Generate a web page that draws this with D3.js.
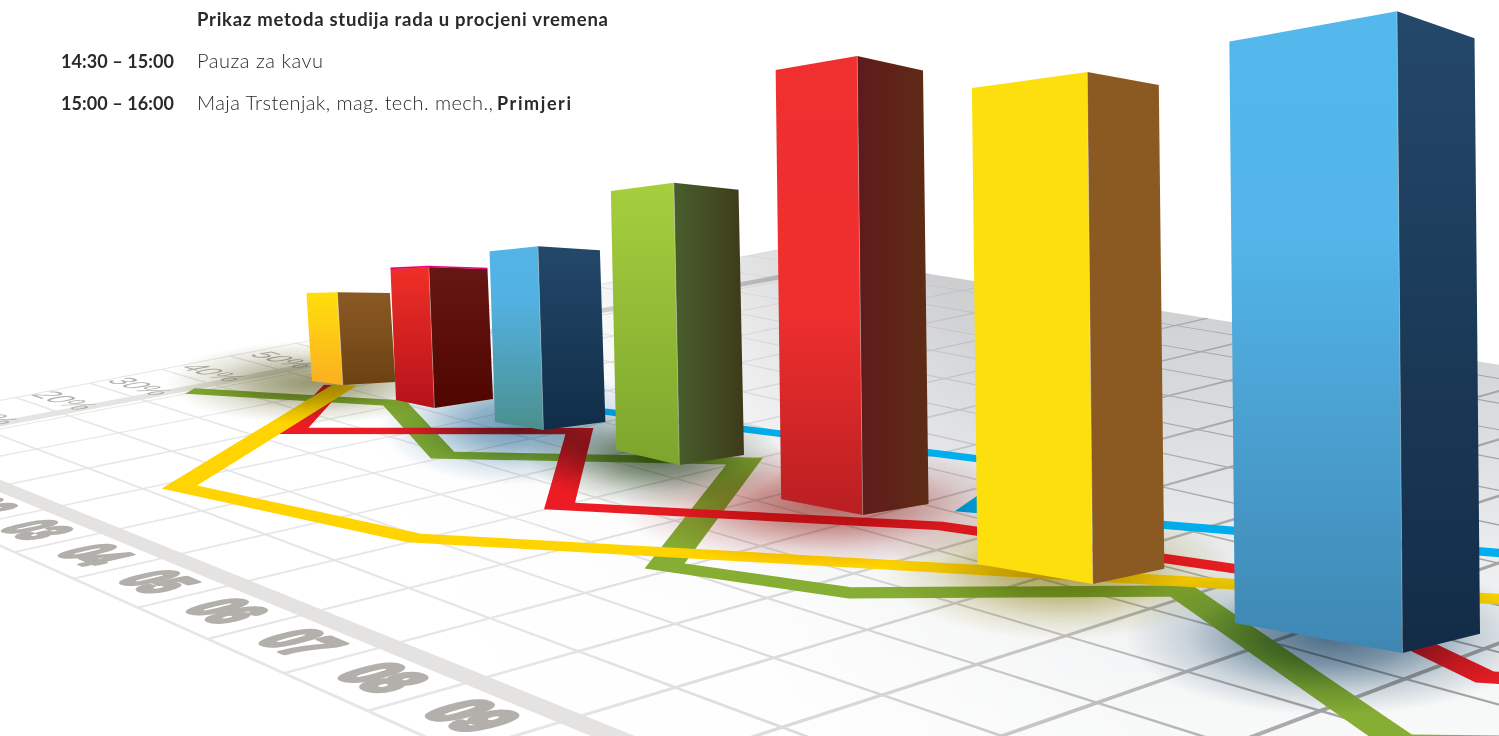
<!DOCTYPE html><html><head><meta charset="utf-8"><style>
html,body{margin:0;background:#fff;overflow:hidden}
text{font-family:Lato,"Open Sans",sans-serif}
</style></head><body><script src="https://cdn.jsdelivr.net/npm/d3@7"></script>
<svg id="s" width="1499" height="736" style="display:block"></svg>
<script>
// ---- chart values (month position, percent position, value)
const monthLabels=["02","03","04","05","06","07","08","09"];
const monthTicks=[2,3,4,5,6,7,8,9];
const percentLabels=["10%","20%","30%","40%","50%"];
const percentTicks=[10,20,30,40,50];

const yellowMonths=[0.36,2.68,5.43,12.5];
const yellowPercent=[45.8,8,14.3,70.6];
const redMonths=[0.29,1.65,3.6,5.5,8.06,10.56,12.81,13.81,14.5];
const redPercent=[45,29.1,50.7,30.6,50.8,59.4,49.4,57.7,63];
const blueMonths=[3.12,7.36,7.92,12];
const bluePercent=[58.1,72.7,57.1,81.4];
const greenMonths=[-0.58,1.4,3.42,5.49,7.39,8.82,10.39,13.13,15];
const greenPercent=[31.3,44.5,34.3,54.3,24.9,30.9,50.5,33.7,56];

const barValues=[20.1,29.1,36.3,52.3,78.2,78.6,89.3];
const barFrontMonth=[0.35,1.86,3.33,5.19,7.42,9.86,12.2];
const barFrontPercent=[45.6,46.2,48.3,48.7,48.5,46.9,49.8];
const barLeftMonth=[-0.05,1.3,2.75,4.39,6.62,8.96,11.09];
const barLeftPercent=[44.3,45.5,46.9,48.2,47,44.4,46.8];
const barRightMonth=[0.63,1.97,3.5,5.33,7.56,9.97,12.31];
const barRightPercent=[50.8,53.4,55.2,55.9,55.4,54.4,57.8];
const barLeftRatio=[.946,.929,.929,.918,.935,.93,.906];
const barRightRatio=[.957,.922,.935,.94,.945,.945,.928];

// ---- floor perspective: grid crossings measured on the picture [month,percent,x,y]
const floorCalibration=[[8.5,15,672,624],[7.5,15,580,593],[9.5,15,772,658],[10.5,15,878,695],[8.5,25,765,598],[9.5,25,863,630],[10.5,25,975,665],[9.5,35,953,603],[2.5,-5,57,510],[3.5,-5,113,532],[4.5,-5,177,557],[5.5,-5,247,585],[6.5,-5,317,612],[7.5,-5,398,645],[8.5,-5,488,680],[3.5,-15,7,550],[4.5,-15,68,577],[5.5,-15,133,607],[6.5,-15,203,638],[7.5,-15,280,673],[8.5,-15,367,710],[-0.8,15,52,412],[-0.8,25,132,397],[-0.8,35,207,382],[-0.8,45,278,368],[10.5,35,1064,637],[10.5,45,1148,608],[11.5,25,1097,703],[11.5,35,1187,672],[11.5,45,1282,638],[12.5,35,1320,713],[12.5,45,1404,680]];

const monthScale=d3.scaleLinear().domain([0,10]).range([0,1]);
const percentScale=d3.scaleLinear().domain([0,100]).range([0,1]);
const heightScale=d3.scaleLinear().domain([0,100]).range([0,500]);

function solve(A,b){const n=b.length;A=A.map((r,i)=>[...r,b[i]]);for(let i=0;i<n;i++){let p=i;for(let k=i;k<n;k++)if(Math.abs(A[k][i])>Math.abs(A[p][i]))p=k;[A[i],A[p]]=[A[p],A[i]];for(let k=i+1;k<n;k++){const f=A[k][i]/A[i][i];for(let j=i;j<=n;j++)A[k][j]-=f*A[i][j];}}const x=Array(n).fill(0);for(let i=n-1;i>=0;i--){let s=A[i][n];for(let j=i+1;j<n;j++)s-=A[i][j]*x[j];x[i]=s/A[i][i];}return x;}
const h=(()=>{const N=Array.from({length:8},()=>Array(8).fill(0)),R=Array(8).fill(0);
 for(const [m,p,x,y] of floorCalibration){const u=monthScale(m),v=percentScale(p),X=x/1000,Y=y/1000;
  for(const [r,t] of [[[u,v,1,0,0,0,-u*X,-v*X],X],[[0,0,0,u,v,1,-u*Y,-v*Y],Y]])for(let i=0;i<8;i++){R[i]+=r[i]*t;for(let j=0;j<8;j++)N[i][j]+=r[i]*r[j];}}
 return solve(N,R);})();
const W=(m,p)=>h[6]*monthScale(m)+h[7]*percentScale(p)+1;
const P=(m,p)=>{const u=monthScale(m),v=percentScale(p),w=W(m,p);return[1000*(h[0]*u+h[1]*v+h[2])/w,1000*(h[3]*u+h[4]*v+h[5])/w];};
// Jacobian for text lying on the floor
const J=(m,p)=>{const a=P(m-.02,p),b=P(m+.02,p),c=P(m,p-.2),d=P(m,p+.2);return[[(b[0]-a[0])/.04,(b[1]-a[1])/.04],[(d[0]-c[0])/.4,(d[1]-c[1])/.4]];};

const svg=d3.select('#s'),defs=svg.append('defs');
const poly=d=>d3.line()(d)+'Z';
function linGrad(id,stops,a){const g=defs.append('linearGradient').attr('id',id);
 if(a){g.attr('gradientUnits','userSpaceOnUse').attr('x1',a[0]).attr('y1',a[1]).attr('x2',a[2]).attr('y2',a[3]);}
 else g.attr('x1',0).attr('y1',0).attr('x2',0).attr('y2',1);
 stops.forEach(s=>g.append('stop').attr('offset',s[0]).attr('stop-color',s[1]).attr('stop-opacity',s[2]===undefined?1:s[2]));return g;}

// floor
const stripM=p=>-1.65-(p-15)/126*0.45, topP=141, farM=22, lowP=-15;
const floorPts=[[stripM(lowP),lowP],[stripM(topP),topP],[farM,topP],[farM,lowP]];
linGrad('floorV',[[0,'#cdced0'],[.33,'#dcdde0'],[.72,'#f2f3f4'],[1,'#f8f9f9']],[0,280,0,736]);
linGrad('floorFade',[[0,'#fff',1],[.45,'#fff',.85],[1,'#fff',0]],[420,560,950,300]);
linGrad('gridC',[[0,'#e6e6e6'],[.4,'#d8d8d8'],[1,'#a4a4a4']],[520,640,1250,420]);
linGrad('bandB',[[0,'#e4e4e2'],[.5,'#d8d8d6'],[1,'#b4b4b4']],[300,0,780,0]);
svg.append('path').attr('d',poly(floorPts.map(d=>P(...d)))).attr('fill','url(#floorV)');
svg.append('path').attr('d',poly(floorPts.map(d=>P(...d)))).attr('fill','url(#floorFade)');

// grid
const grid=svg.append('g').attr('fill','url(#gridC)');
const segM=(p,m0,m1,w)=>poly([[m0,p-w],[m1,p-w],[m1,p+w],[m0,p+w]].map(d=>P(...d)));
const segP=(m,p0,p1,w)=>poly([[m-w,p0],[m+w,p0],[m+w,p1],[m-w,p1]].map(d=>P(...d)));
const gridP=d3.range(lowP,topP-5,10), gridM=d3.range(-0.5,farM,1);
gridP.forEach(p=>grid.append('path').attr('d',segM(p,p<0?0:stripM(p),farM,.2)));
gridM.forEach(m=>grid.append('path').attr('d',segP(m,lowP,topP,.022)));
grid.append('path').attr('d',poly([[stripM(lowP)-.02,lowP],[stripM(topP)-.02,topP],[stripM(topP)+.02,topP],[stripM(lowP)+.02,lowP]].map(d=>P(...d))));
// axis bands
svg.append('path').attr('d',segM(-5,-0.7,farM,1.15)).attr('fill','#e4e3e1');
svg.append('path').attr('d',segP(-0.7,-5,topP,.11)).attr('fill','url(#bandB)');

// tick labels lying on the floor
function floorText(t,m,p,emM,emP,cls){const j=J(m,p),q=P(m,p);
 const g=svg.append('g').attr('transform',`matrix(${j[0][0]*emM/100},${j[0][1]*emM/100},${-j[1][0]*emP/100},${-j[1][1]*emP/100},${q[0]},${q[1]})`);
 const s=g.append('text').text(t).attr('font-size',100).attr('text-anchor','middle').attr('dy','.36em').style('font-family','"Liberation Sans"');
 if(cls==='m')s.attr('font-weight',700).attr('fill','#b3b0ac').attr('stroke','#b3b0ac').attr('stroke-width',11).attr('stroke-linejoin','round');
 else s.attr('fill','#9c9c94').attr('fill-opacity',.8);}
monthLabels.forEach((t,i)=>floorText(t,monthTicks[i]+.03,-9.8,.47,7,'m'));
percentLabels.forEach((t,i)=>floorText(t,-1.15,percentTicks[i]-1.5,.5,4.5,'p'));

// ribbons on the floor
const ribbonPts=(ms,ps,w)=>{const pts=ms.map((m,i)=>[m,ps[i]/10]),L=[],R=[],n=pts.length;
 for(let i=0;i<n;i++){const a=pts[Math.max(i-1,0)],b=pts[i],c=pts[Math.min(i+1,n-1)];
  let d1=[b[0]-a[0],b[1]-a[1]],d2=[c[0]-b[0],c[1]-b[1]];
  const nr=v=>{const l=Math.hypot(v[0],v[1])||1;return[v[0]/l,v[1]/l];};
  if(i===0)d1=d2;if(i===n-1)d2=d1;d1=nr(d1);d2=nr(d2);
  const n1=[-d1[1],d1[0]],n2=[-d2[1],d2[0]];const mi=nr([n1[0]+n2[0],n1[1]+n2[1]]);
  let k=1/Math.max(.28,mi[0]*n1[0]+mi[1]*n1[1]);
  L.push([b[0]+mi[0]*w*k,(b[1]+mi[1]*w*k)*10]);R.push([b[0]-mi[0]*w*k,(b[1]-mi[1]*w*k)*10]);}
 return L.concat(R.reverse()).map(d=>P(d[0],d[1]));};
const lineSeries=[[blueMonths,bluePercent,.125,'#00aeef'],[greenMonths,greenPercent,.14,'#86ae34'],[redMonths,redPercent,.13,'#ed1c24'],[yellowMonths,yellowPercent,.14,'#ffd400']];
lineSeries.forEach(s=>svg.append('path').attr('d',poly(ribbonPts(s[0],s[1],s[2]))).attr('fill',s[3]));

// shadows under bars
const shadowColor=['#7d7d4e','#5f8db0','#4f87ad','#3a5232','#a02f28','#a89c3a','#2f5878'];
const shadowOp=[.8,.0,.85,.85,.7,.85,.85];
const shadowRx=[1.75,1,1.25,1.0,1.4,.95,.85];
const shadowRy=[.5,.3,.55,.4,.42,.36,.32];
const shadowDx=[-.5,0,-.3,-.2,-.2,-.05,-.1];
const barColLeft=[[[0,'#ffdf0b'],[1,'#fbaf21']],[[0,'#f02f27'],[1,'#b5121b']],[[0,'#52b4e8'],[.3,'#52b1e0'],[1,'#4b8f8e']],[[0,'#a6cf3e'],[1,'#7da52d']],[[0,'#f03030'],[.55,'#ef2f2e'],[1,'#b91f22']],[[0,'#fddf0d'],[1,'#fddf0d']],[[0,'#54b8ec'],[.35,'#53b5e9'],[1,'#3e87b2']]];
const barColRight=[[[0,'#8a5a24'],[1,'#6c4212']],[[0,'#661713'],[1,'#500500']],[[0,'#24486a'],[1,'#0f2d47']],[[0,'#485e2d'],[1,'#3e3a1a']],[[0,'#5f1a1c'],[1,'#5e2c15']],[[0,'#8b5a22'],[1,'#8b5a22']],[[0,'#24486a'],[1,'#122c47']]];
const topEdge=[null,'#e6007e',null,null,null,null,null];
const horizRight=[false,false,false,true,true,false,false];

barValues.forEach((v,i)=>{
 const L=P(barLeftMonth[i],barLeftPercent[i]),F=P(barFrontMonth[i],barFrontPercent[i]),R=P(barRightMonth[i],barRightPercent[i]);
 const wpx=R[0]-L[0],cx=(L[0]+R[0])/2+wpx*shadowDx[i],cy=(L[1]+R[1]+F[1])/3;
 if(shadowOp[i]>0){const id='sh'+i,g=defs.append('radialGradient').attr('id',id);
  [[0,1],[.35,.72],[.7,.25],[1,0]].forEach(s=>g.append('stop').attr('offset',s[0]).attr('stop-color',shadowColor[i]).attr('stop-opacity',s[1]*shadowOp[i]));
  svg.append('ellipse').attr('cx',cx).attr('cy',cy).attr('rx',wpx*shadowRx[i]).attr('ry',wpx*shadowRy[i]).attr('fill',`url(#${id})`).style('mix-blend-mode','multiply');}
});
barValues.forEach((v,i)=>{
 const lm=barLeftMonth[i],lp=barLeftPercent[i],fm=barFrontMonth[i],fp=barFrontPercent[i],rm=barRightMonth[i],rp=barRightPercent[i];
 const L=P(lm,lp),F=P(fm,fp),R=P(rm,rp),front=heightScale(v)/W(fm,fp);
 const top=(q,s)=>[q[0]-5.5,q[1]-front*s];
 const TL=top(L,barLeftRatio[i]),TF=top(F,1),TR=top(R,barRightRatio[i]);
 linGrad('bl'+i,barColLeft[i]);
 const gr=linGrad('br'+i,barColRight[i]);
 if(horizRight[i])gr.attr('x2',1).attr('y2',0);
 const g=svg.append('g');
 g.append('path').attr('d',poly([L,F,TF,TL])).attr('fill',`url(#bl${i})`);
 g.append('path').attr('d',poly([F,R,TR,TF])).attr('fill',`url(#br${i})`);
 g.append('path').attr('d',d3.line()([F,TF])).attr('stroke','#fff').attr('stroke-opacity',.3).attr('stroke-width',1).attr('fill','none');
 if(topEdge[i])g.append('path').attr('d',d3.line()([[TL[0],TL[1]-.6],[TF[0],TF[1]-.6],[TR[0],TR[1]-.6]])).attr('stroke',topEdge[i]).attr('stroke-width',1.6).attr('fill','none');
});

// text block
const textRows=[
 ["Prikaz metoda studija rada u procjeni vremena",197,26,411,18.5,700],
 ["14:30 – 15:00",61,68,113,18,700],["Pauza za kavu",197,68,126,20,300],
 ["15:00 – 16:00",61,110,113,18,700],["Maja Trstenjak, mag. tech. mech.,",197,110,296,20,300],["Primjeri",497,110,74,18,700]];
textRows.forEach(r=>svg.append('text').text(r[0]).attr('x',r[1]).attr('y',r[2]).attr('textLength',r[3]).attr('lengthAdjust','spacing').attr('font-size',r[4]).attr('font-weight',r[5]).attr('fill','#2a2a2a'));
</script></body></html>
